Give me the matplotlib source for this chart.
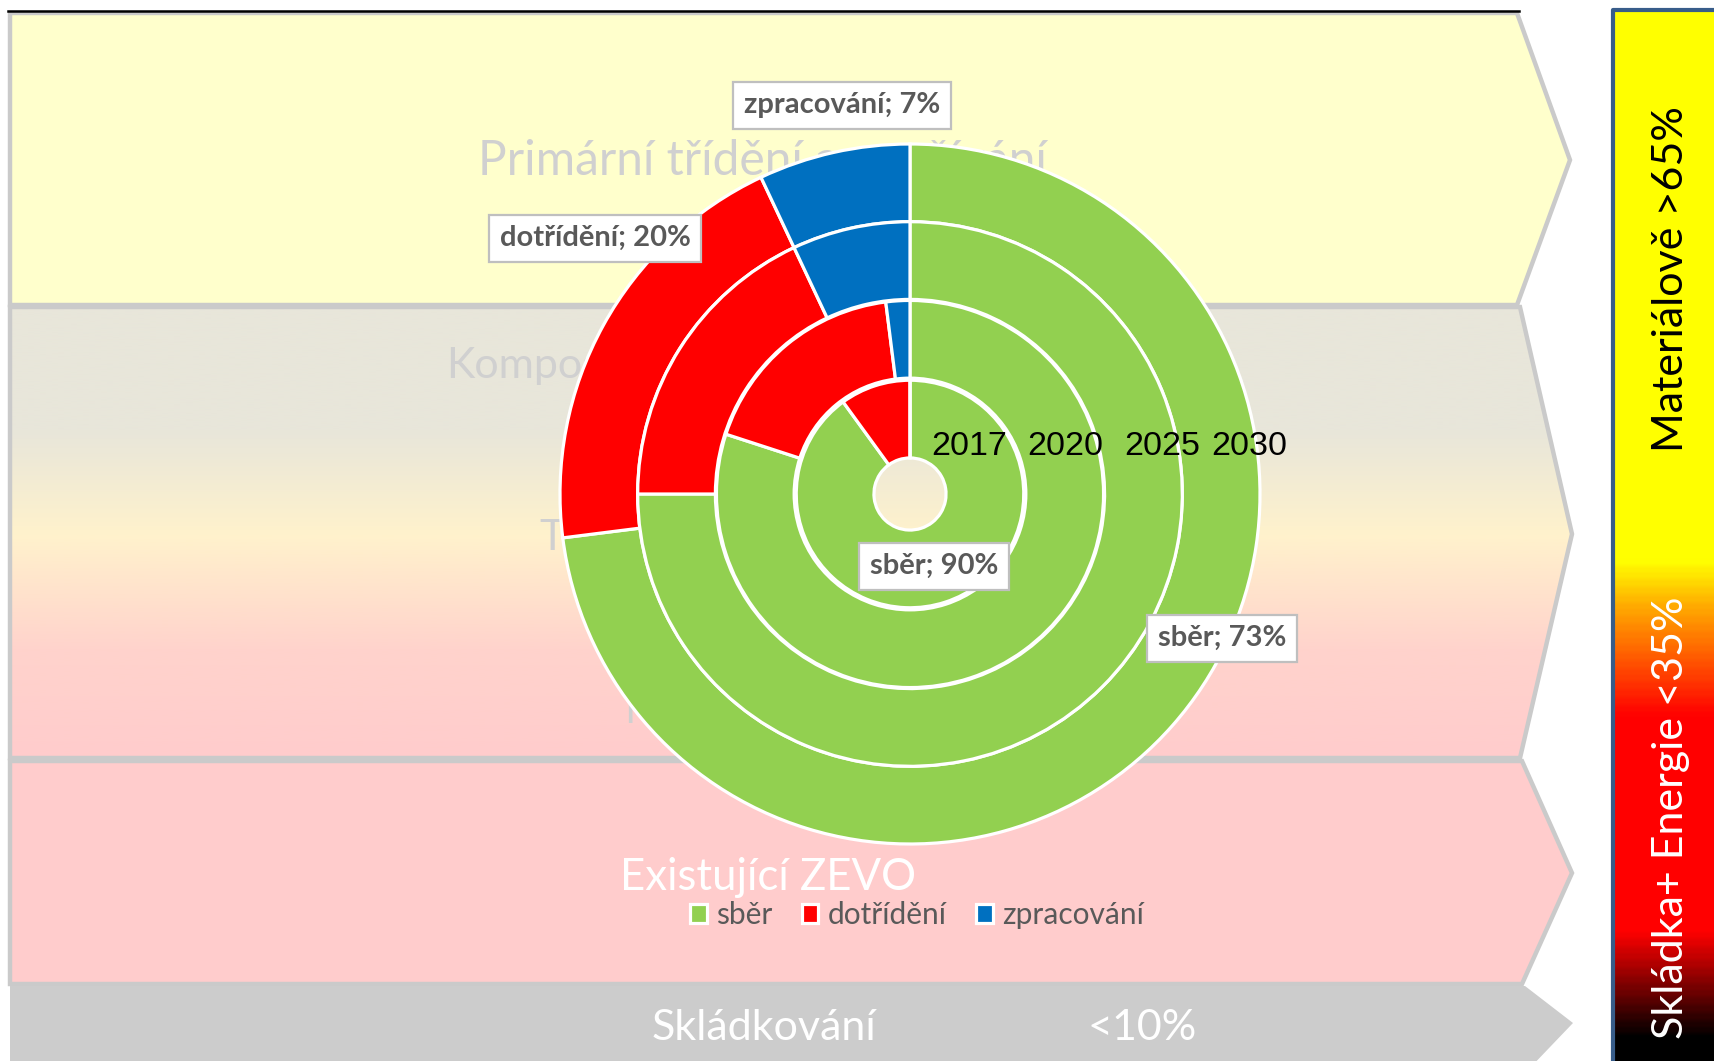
import numpy as np
import matplotlib.pyplot as plt
from matplotlib.patches import Polygon, Rectangle
from matplotlib.colors import LinearSegmentedColormap

# data: rings from outer to inner
years = ['2030', '2025', '2020', '2017']
categories = ['sběr', 'dotřídění', 'zpracování']
sber = [73, 75, 80, 90]
dotrideni = [20, 18, 18, 10]
zpracovani = [7, 7, 2, 0]
colors = ['#92D050', '#FF0000', '#0070C0']

band_texts = ['Primární třídění a využívání', 'Kompostování', 'Třídicí linky',
              'MBÚ', 'Existující ZEVO', 'Skládkování', '<10%']
side_texts = ['Materiálově >65%', 'Skládka+ Energie <35%']

W, H = 1714, 1061
plt.rcParams['font.family'] = ['Lato', 'DejaVu Sans']
fig = plt.figure(figsize=(W / 100, H / 100), dpi=100)

# background in pixel coordinates (y down)
bg = fig.add_axes([0, 0, 1, 1])
bg.axis('off')

edge = '#CACACA'

def vgrad(ax, clip, stops, x0, x1, y0, y1, z):
    cmap = LinearSegmentedColormap.from_list(
        'g', [((y - y0) / (y1 - y0), c) for y, c in stops])
    im = ax.imshow(np.linspace(0, 1, 400).reshape(-1, 1), cmap=cmap,
                   extent=(x0, x1, y1, y0), aspect='auto',
                   interpolation='bilinear', zorder=z)
    im.set_clip_path(clip)

# band 1
b1 = Polygon([(10, 13), (1517, 13), (1570, 160), (1517, 305), (10, 305)],
             closed=True, fc='#FFFFCC', ec=edge, lw=3.2, zorder=1)
bg.add_patch(b1)
# band 2 (gradient)
b2pts = [(10, 307), (1520, 307), (1572, 534), (1520, 758), (10, 758)]
b2 = Polygon(b2pts, closed=True, fc='none', ec='none', zorder=1)
bg.add_patch(b2)
vgrad(bg, b2, [(307, '#E8E6DA'), (430, '#E8E6DA'), (535, '#FFF2CC'),
               (650, '#FFD3CC'), (758, '#FFCCCC')], 10, 1572, 307, 758, 1)
bg.add_patch(Polygon(b2pts, closed=True, fc='none', ec=edge, lw=3.2, zorder=2))
# band 3
bg.add_patch(Polygon([(10, 761), (1522, 761), (1572, 873), (1522, 984), (10, 984)],
                     closed=True, fc='#FFCCCC', ec=edge, lw=3.2, zorder=1))
# band 4
bg.add_patch(Polygon([(10, 986), (1525, 986), (1573, 1023), (1528, 1070), (10, 1070)],
                     closed=True, fc='#CCCCCC', ec='none', zorder=1))

# top black line
bg.plot([8, 1519], [11, 11], color='black', lw=1.8, zorder=3)

# right bar
rb = Rectangle((1613, 10), 110, 1060, fc='none', ec='none')
bg.add_patch(rb)
vgrad(bg, rb, [(10, '#FFFF00'), (562, '#FFFF00'), (610, '#FFA500'),
               (717, '#FF0000'), (934, '#FF0000'), (1040, '#000000'),
               (1061, '#000000')], 1613, 1723, 10, 1061, 1)
bg.plot([1613, 1613, 1714], [1061, 10, 10], color='#385D8A', lw=3, zorder=3)

# texts behind the donut
grey_txt = '#D0D0D0'
bg.text(762, 175, band_texts[0], ha='center', va='baseline', fontsize=34.5, color=grey_txt, zorder=3)
bg.text(446, 378, band_texts[1], ha='left', va='baseline', fontsize=31, color=grey_txt, zorder=3)
bg.text(540, 550, band_texts[2], ha='left', va='baseline', fontsize=31, color=grey_txt, zorder=3)
bg.text(624, 723, band_texts[3], ha='left', va='baseline', fontsize=31, color=grey_txt, zorder=3)
bg.text(768, 890, band_texts[4], ha='center', va='baseline', fontsize=31.5, color='white', zorder=3)
bg.text(764, 1040, band_texts[5], ha='center', va='baseline', fontsize=31, color='white', zorder=3)
bg.text(1142, 1040, band_texts[6], ha='center', va='baseline', fontsize=31, color='white', zorder=3)

bg.text(1683, 279, side_texts[0], rotation=90, rotation_mode='anchor',
        ha='center', va='baseline', fontsize=31, color='black', zorder=4)
bg.text(1683, 818, side_texts[1], rotation=90, rotation_mode='anchor',
        ha='center', va='baseline', fontsize=31, color='white', zorder=4)

bg.set_xlim(0, W)
bg.set_ylim(H, 0)

# donut
cx, cy, R = 910, 494, 350
dax = fig.add_axes([(cx - R) / W, (H - cy - R) / H, 2 * R / W, 2 * R / H])
radii = [1.0, 0.778, 0.553, 0.325]
ring_w = 0.222
wedges_all = []
for i, r in enumerate(radii):
    vals = [sber[i], dotrideni[i], zpracovani[i]]
    w, _ = dax.pie(vals, radius=r, startangle=90, counterclock=False, colors=colors,
                   wedgeprops=dict(width=ring_w, edgecolor='white', linewidth=2.3))
    wedges_all.append(w)
dax.set_xlim(-1, 1)
dax.set_ylim(-1, 1)
dax.axis('off')

def px(x, y):
    return (x - cx) / R, (cy - y) / R

# year labels, inner to outer
year_px = [931, 1027, 1124, 1211]
for yr, xp in zip(years[::-1], year_px):
    dax.text(*px(xp, 455), yr, ha='left', va='baseline', fontsize=24.5,
             family='Liberation Sans', color='black')

# data labels
box = dict(boxstyle='square,pad=0.36', fc='white', ec='#BFBFBF', lw=1.6)
lab = [(zpracovani[0], categories[2], 842, 105),
       (dotrideni[0], categories[1], 595, 238),
       (sber[3], categories[0], 934, 566),
       (sber[0], categories[0], 1222, 638)]
for v, c, x, y in lab:
    dax.text(*px(x, y), f'{c}; {v}%', ha='center', va='center', fontsize=21,
             fontweight='bold', color='#595959', bbox=box)

fig.legend(wedges_all[0], categories, loc='center', bbox_to_anchor=(917 / W, 1 - 915 / H),
           ncol=3, frameon=False, fontsize=21.5, labelcolor='#595959',
           handlelength=0.55, handleheight=0.65, handletextpad=0.3, columnspacing=1.0)

fig.savefig('out.png', dpi=100)
